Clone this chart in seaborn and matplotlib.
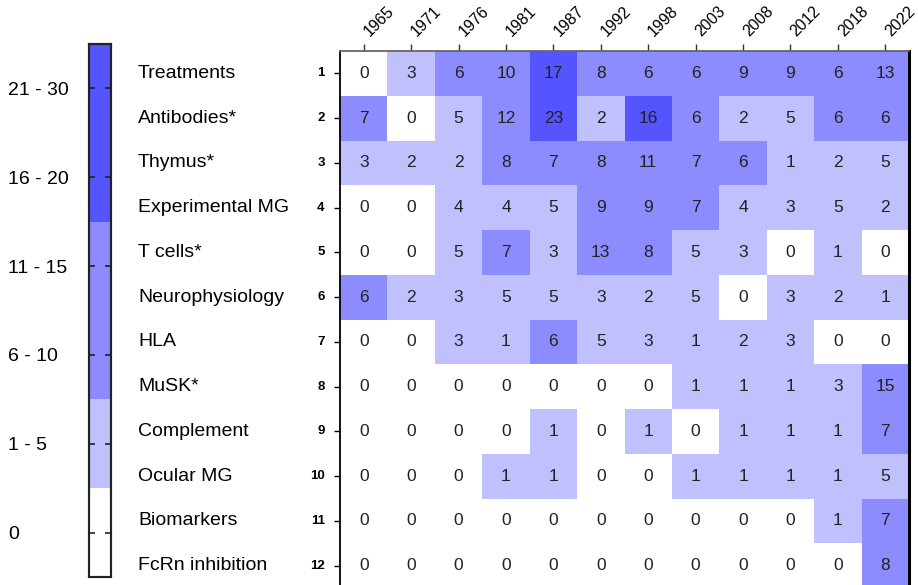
import numpy as np
import pandas as pd
import matplotlib
matplotlib.use("Agg")
import matplotlib.pyplot as plt
import matplotlib.transforms as mtransforms
from matplotlib.colors import ListedColormap
import seaborn as sns

years = ["1965", "1971", "1976", "1981", "1987", "1992", "1998", "2003", "2008", "2012", "2018", "2022"]
topics = ["Treatments", "Antibodies*", "Thymus*", "Experimental MG", "T cells*", "Neurophysiology",
          "HLA", "MuSK*", "Complement", "Ocular MG", "Biomarkers", "FcRn inhibition"]
row_numbers = [str(i) for i in range(1, 13)]

treatments      = [0, 3, 6, 10, 17, 8, 6, 6, 9, 9, 6, 13]
antibodies      = [7, 0, 5, 12, 23, 2, 16, 6, 2, 5, 6, 6]
thymus          = [3, 2, 2, 8, 7, 8, 11, 7, 6, 1, 2, 5]
experimental_mg = [0, 0, 4, 4, 5, 9, 9, 7, 4, 3, 5, 2]
t_cells         = [0, 0, 5, 7, 3, 13, 8, 5, 3, 0, 1, 0]
neurophysiology = [6, 2, 3, 5, 5, 3, 2, 5, 0, 3, 2, 1]
hla             = [0, 0, 3, 1, 6, 5, 3, 1, 2, 3, 0, 0]
musk            = [0, 0, 0, 0, 0, 0, 0, 1, 1, 1, 3, 15]
complement      = [0, 0, 0, 0, 1, 0, 1, 0, 1, 1, 1, 7]
ocular_mg       = [0, 0, 0, 1, 1, 0, 0, 1, 1, 1, 1, 5]
biomarkers      = [0, 0, 0, 0, 0, 0, 0, 0, 0, 0, 1, 7]
fcrn            = [0, 0, 0, 0, 0, 0, 0, 0, 0, 0, 0, 8]

bin_labels = ["0", "1 - 5", "6 - 10", "11 - 15", "16 - 20", "21 - 30"]
bin_edges = [0.5, 5.5, 10.5, 15.5, 20.5]

values = np.array([treatments, antibodies, thymus, experimental_mg, t_cells, neurophysiology,
                   hla, musk, complement, ocular_mg, biomarkers, fcrn])
cats = np.digitize(values, bin_edges)

df_cat = pd.DataFrame(cats, index=row_numbers, columns=years)
df_val = pd.DataFrame(values, index=row_numbers, columns=years)

colors = ["#FFFFFF", "#C0C0FF", "#8C8CFF", "#8C8CFF", "#5555FF", "#5555FF"]
cmap = ListedColormap(colors)

plt.rcParams["font.family"] = ["Liberation Sans", "DejaVu Sans"]

fig = plt.figure(figsize=(9.18, 5.85), dpi=100)
ax = fig.add_axes([340 / 918, -3 / 585, 569 / 918, 537 / 585])
cax = fig.add_axes([89 / 918, 8 / 585, 22 / 918, 533 / 585])

sns.heatmap(df_cat, ax=ax, cbar_ax=cax, cmap=cmap, vmin=-0.5, vmax=5.5,
            annot=df_val, fmt="d", annot_kws={"fontsize": 12.5, "color": "#222222"},
            linewidths=0, cbar_kws={"ticks": list(range(6))})

# heatmap axes styling
ax.set_xlabel("")
ax.set_ylabel("")
ax.xaxis.tick_top()
ax.set_xticklabels(years)
ax.tick_params(axis="x", top=True, bottom=False, labeltop=True, labelbottom=False,
               length=5, width=1, color="#333333", pad=5)
offset = mtransforms.ScaledTranslation(6 / 100, 0, fig.dpi_scale_trans)
for tick in ax.xaxis.get_major_ticks():
    lbl = tick.label2
    lbl.set_rotation(45)
    lbl.set_rotation_mode("anchor")
    lbl.set_ha("left")
    lbl.set_va("baseline")
    lbl.set_fontsize(11.5)
    lbl.set_transform(lbl.get_transform() + offset)

ax.set_yticklabels(row_numbers, rotation=0, fontsize=9.5, fontweight="bold")
ax.tick_params(axis="y", left=True, length=4, width=1, pad=7)
for name, sp in ax.spines.items():
    sp.set_visible(True)
ax.spines["left"].set_color("black")
ax.spines["left"].set_linewidth(1.3)
ax.spines["top"].set_color("#666666")
ax.spines["top"].set_linewidth(1.3)
ax.spines["right"].set_color("black")
ax.spines["right"].set_linewidth(2.2)
ax.spines["bottom"].set_visible(False)

# topic names
trans = mtransforms.blended_transform_factory(fig.transFigure, ax.transData)
for i, name in enumerate(topics):
    ax.text(138 / 918, i + 0.5, name, transform=trans, ha="left", va="center", fontsize=14)

# colorbar styling
cax.set_yticks(range(6))
cax.set_yticklabels(bin_labels, fontsize=14, ha="left")
cax.yaxis.set_ticks_position("both")
cax.tick_params(axis="y", left=True, right=True, labelleft=True, labelright=False,
                direction="in", length=4, width=1.2, color="#222222", pad=58)
for sp in cax.spines.values():
    sp.set_visible(True)
    sp.set_color("#222222")
    sp.set_linewidth(1.5)

fig.savefig("out.png", dpi=100)
